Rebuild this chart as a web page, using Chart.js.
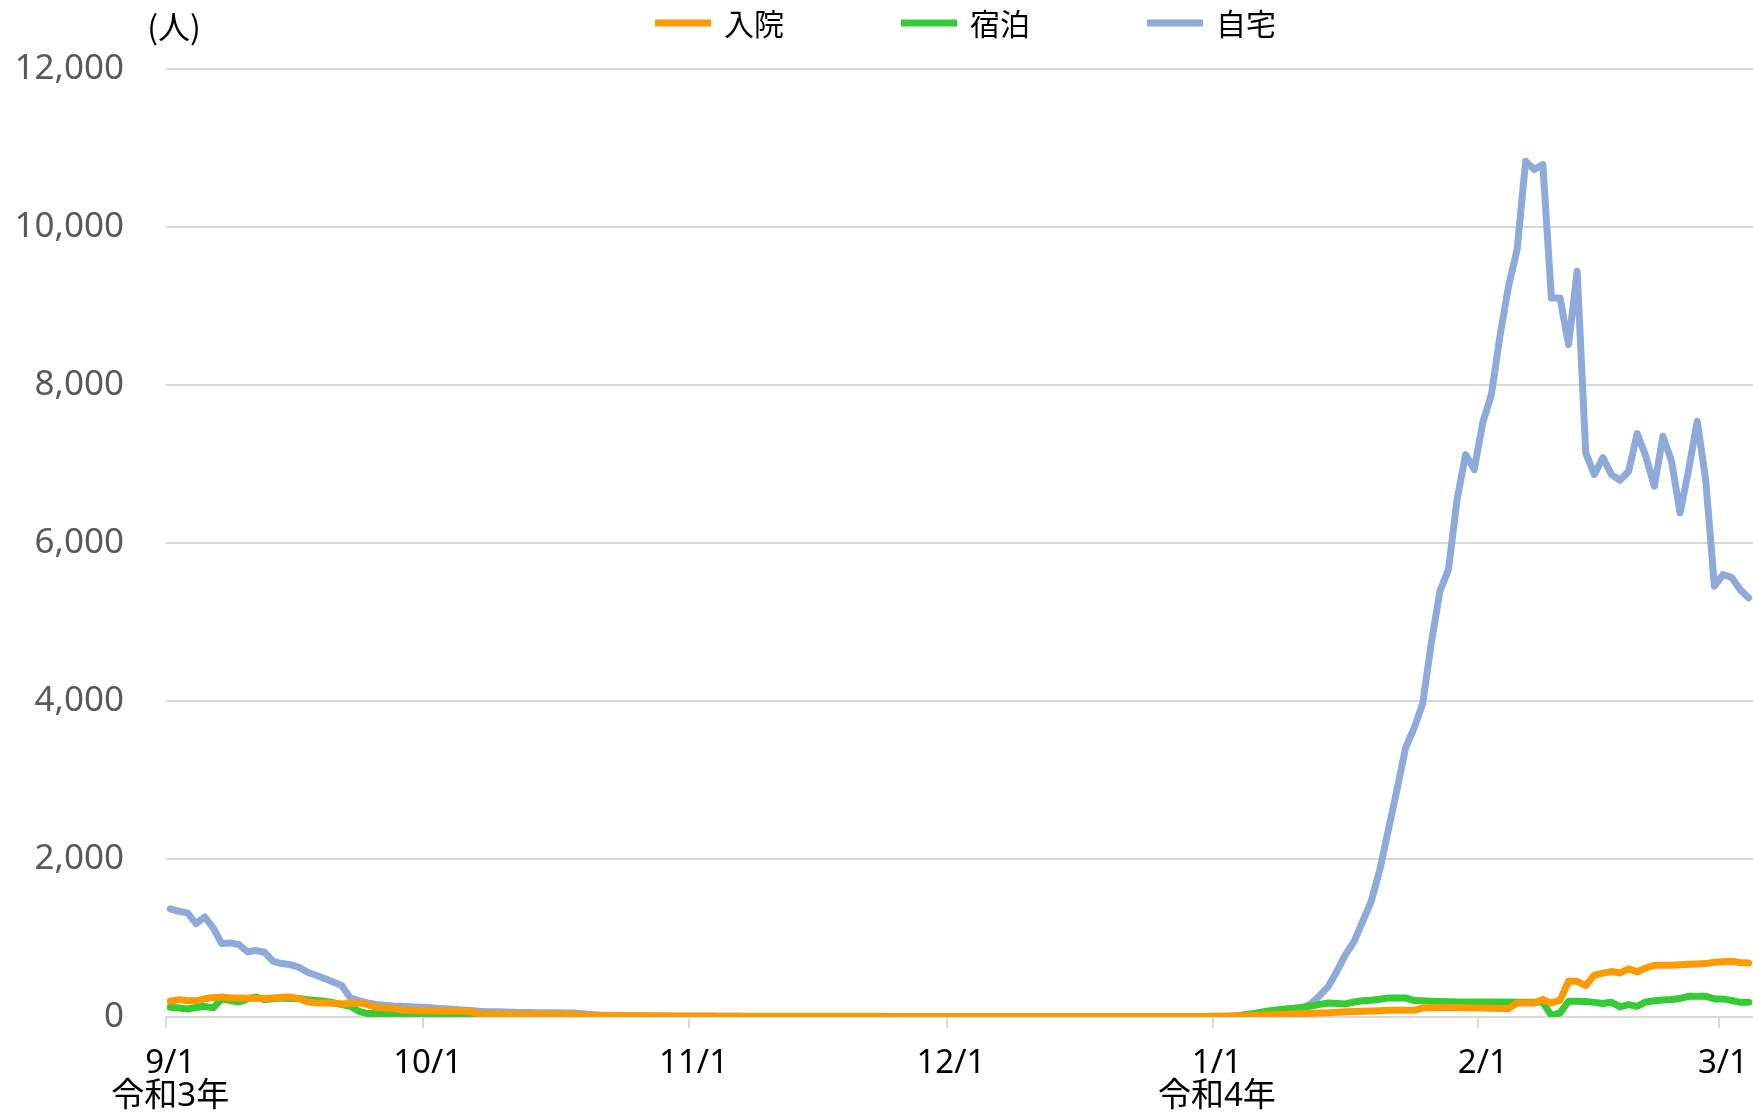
<!DOCTYPE html>
<html lang="ja">
<head>
<meta charset="utf-8">
<script src="https://cdn.jsdelivr.net/npm/chart.js@4.4.1/dist/chart.umd.min.js"></script>
<style>
html, body { margin: 0; padding: 0; background: #fff; }
#wrap { width: 1753px; height: 1113px; }
</style>
</head>
<body>
<div id="wrap"><canvas id="myChart"></canvas></div>
<script>
// daily values, 9/1 (令和3年) .. 3/4 (令和4年)
const nyuin = [
  199, 220, 205, 205, 230, 245, 254, 241, 241, 238,
  236, 233, 241, 249, 254, 233, 190, 180, 178, 175,
  166, 172, 178, 157, 120, 115, 110, 90, 85, 78,
  80, 78, 76, 75, 74, 72, 40, 38, 37, 36,
  36, 35, 35, 34, 34, 33, 33, 32, 22, 20,
  20, 19, 18, 17, 16, 15, 15, 14, 14, 13,
  13, 12, 12, 12, 11, 11, 11, 10, 10, 10,
  10, 10, 9, 9, 9, 9, 9, 8, 8, 8,
  8, 8, 8, 8, 7, 7, 7, 7, 7, 7,
  7, 7, 7, 6, 6, 6, 6, 6, 6, 6,
  6, 6, 6, 6, 6, 6, 6, 6, 6, 6,
  6, 6, 6, 6, 6, 6, 6, 6, 6, 7,
  7, 8, 8, 9, 12, 15, 18, 22, 27, 32,
  36, 39, 44, 48, 52, 55, 60, 65, 70, 72,
  76, 80, 85, 85, 85, 85, 115, 117, 119, 118,
  117, 116, 115, 114, 112, 108, 106, 178, 178, 178,
  220, 178, 211, 452, 452, 397, 530, 555, 575, 558,
  609, 571, 620, 654, 654, 654, 660, 668, 672, 676,
  692, 700, 705, 690, 685
];
const shukuhaku = [
  123, 115, 102, 120, 135, 115, 229, 208, 191, 229,
  254, 220, 230, 241, 235, 233, 220, 208, 199, 180,
  157, 135, 72, 43, 43, 40, 39, 25, 22, 15,
  13, 12, 10, 8, 7, 6, 5, 4, 4, 3,
  3, 3, 2, 2, 2, 2, 2, 2, 2, 1,
  1, 1, 1, 1, 1, 1, 1, 1, 1, 1,
  1, 1, 1, 1, 1, 1, 1, 1, 1, 1,
  1, 1, 1, 1, 1, 1, 1, 1, 1, 1,
  1, 1, 1, 1, 1, 1, 1, 1, 1, 1,
  1, 1, 1, 1, 1, 1, 1, 1, 1, 1,
  1, 1, 1, 1, 1, 1, 1, 1, 1, 1,
  1, 1, 1, 1, 1, 1, 1, 1, 1, 1,
  1, 1, 1, 2, 10, 25, 40, 58, 75, 90,
  102, 112, 125, 140, 160, 178, 172, 166, 190, 205,
  211, 225, 241, 241, 241, 208, 205, 200, 197, 194,
  191, 191, 191, 190, 190, 190, 189, 188, 187, 187,
  186, 18, 52, 199, 199, 195, 185, 170, 186, 128,
  157, 135, 190, 205, 215, 222, 235, 262, 262, 262,
  229, 229, 210, 186, 186
];
const jitaku = [
  1370, 1338, 1318, 1182, 1267, 1128, 929, 938, 916, 824,
  841, 819, 705, 676, 663, 629, 566, 528, 486, 444,
  397, 241, 208, 178, 160, 148, 140, 135, 130, 125,
  120, 112, 104, 98, 88, 82, 72, 68, 65, 62,
  60, 58, 56, 55, 54, 53, 52, 50, 40, 32,
  25, 22, 20, 18, 16, 15, 14, 13, 12, 11,
  10, 10, 9, 9, 8, 8, 8, 7, 7, 7,
  7, 6, 6, 6, 6, 6, 6, 5, 5, 5,
  5, 5, 5, 5, 5, 5, 5, 5, 5, 5,
  5, 5, 5, 5, 5, 5, 5, 5, 5, 5,
  5, 5, 5, 5, 5, 5, 5, 5, 5, 5,
  5, 5, 5, 5, 5, 5, 5, 5, 5, 6,
  6, 7, 8, 10, 12, 15, 18, 22, 30, 45,
  60, 80, 110, 170, 270, 389, 580, 790, 958, 1210,
  1465, 1866, 2372, 2878, 3406, 3660, 3967, 4735, 5389, 5663,
  6549, 7119, 6929, 7524, 7878, 8617, 9250, 9714, 10832, 10727,
  10790, 9102, 9102, 8511, 9439, 7141, 6866, 7081, 6866, 6794,
  6908, 7385, 7098, 6718, 7351, 7035, 6381, 6929, 7541, 6781,
  5452, 5600, 5566, 5410, 5305
];

const seriesNames = ['入院', '宿泊', '自宅'];
const seriesColors = ['#ff9900', '#33cc33', '#8eaadb'];

// month-start tick labels
const tickLabels = {
  '9/1': ['9/1', '令和3年'],
  '10/1': '10/1',
  '11/1': '11/1',
  '12/1': '12/1',
  '1/1': ['1/1', '令和4年'],
  '2/1': '2/1',
  '3/1': '3/1'
};

const days = [];
for (let i = 0; i < nyuin.length; i++) {
  const d = new Date(2021, 8, 1 + i);
  days.push((d.getMonth() + 1) + '/' + d.getDate());
}

const gridColor = '#d9d9d9';

// legend on top and the unit label, drawn on the canvas
const topLegend = {
  id: 'topLegend',
  afterDraw(chart) {
    const ctx = chart.ctx;
    const lineLen = 56, textGap = 13, itemGap = 117;
    ctx.save();
    ctx.font = '30px "Noto Sans CJK JP", "Noto Sans"';
    ctx.textBaseline = 'middle';
    ctx.textAlign = 'left';
    const items = chart.data.datasets.map(ds => ({
      text: ds.label,
      color: ds.borderColor,
      w: lineLen + textGap + ctx.measureText(ds.label).width
    }));
    const total = items.reduce((s, it) => s + it.w, 0) + itemGap * (items.length - 1);
    let x = (chart.chartArea.left + chart.chartArea.right) / 2 - total / 2 + 6;
    const y = 23;
    items.forEach(it => {
      ctx.strokeStyle = it.color;
      ctx.lineWidth = 7;
      ctx.beginPath();
      ctx.moveTo(x, y);
      ctx.lineTo(x + lineLen, y);
      ctx.stroke();
      ctx.fillStyle = '#000';
      ctx.fillText(it.text, x + lineLen + textGap, y + 1);
      x += it.w + itemGap;
    });

    ctx.font = '32px "Noto Sans CJK JP", "Noto Sans"';
    ctx.textAlign = 'center';
    ctx.fillText('(人)', 174, 27);
    ctx.restore();
  }
};

const ctx = document.getElementById('myChart').getContext('2d');
const chart = new Chart(ctx, {
  type: 'line',
  data: {
    labels: days,
    datasets: [nyuin, shukuhaku, jitaku].map((values, i) => ({
      label: seriesNames[i],
      data: values,
      borderColor: seriesColors[i],
      backgroundColor: seriesColors[i],
      borderWidth: 7,
      borderCapStyle: 'round',
      borderJoinStyle: 'round',
      pointRadius: 0,
      tension: 0,
      fill: false
    }))
  },
  options: {
    responsive: true,
    maintainAspectRatio: false,
    animation: false,
    layout: { padding: { top: 69, left: 0, right: 0, bottom: 0 } },
    plugins: {
      legend: { display: false },
      tooltip: { enabled: false }
    },
    scales: {
      x: {
        offset: true,
        grid: {
          offset: true,
          drawOnChartArea: false,
          drawTicks: true,
          tickLength: 11,
          lineWidth: 2,
          color: (c) => (tickLabels[days[c.index]] ? gridColor : 'rgba(0,0,0,0)')
        },
        border: { display: true, color: gridColor, width: 2 },
        ticks: {
          autoSkip: false,
          maxRotation: 0,
          minRotation: 0,
          padding: 19,
          color: '#000',
          font: { family: '"Noto Sans", "Noto Sans CJK JP"', size: 33, lineHeight: 1.0 },
          callback: function(value) {
            const lbl = this.getLabelForValue(value);
            return tickLabels[lbl] || '';
          }
        },
        afterFit(axis) {
          axis.height = 96;
          axis.paddingLeft = 0;
          axis.paddingRight = 0;
        }
      },
      y: {
        min: 0,
        max: 12000,
        grid: { color: gridColor, lineWidth: 2, drawTicks: false },
        border: { display: false },
        ticks: {
          stepSize: 2000,
          padding: 42,
          color: '#595959',
          font: { family: '"Noto Sans"', size: 35 },
          callback: (v) => v.toLocaleString('en-US')
        },
        afterFit(axis) { axis.width = 166; }
      }
    }
  },
  plugins: [topLegend]
});
</script>
</body>
</html>
